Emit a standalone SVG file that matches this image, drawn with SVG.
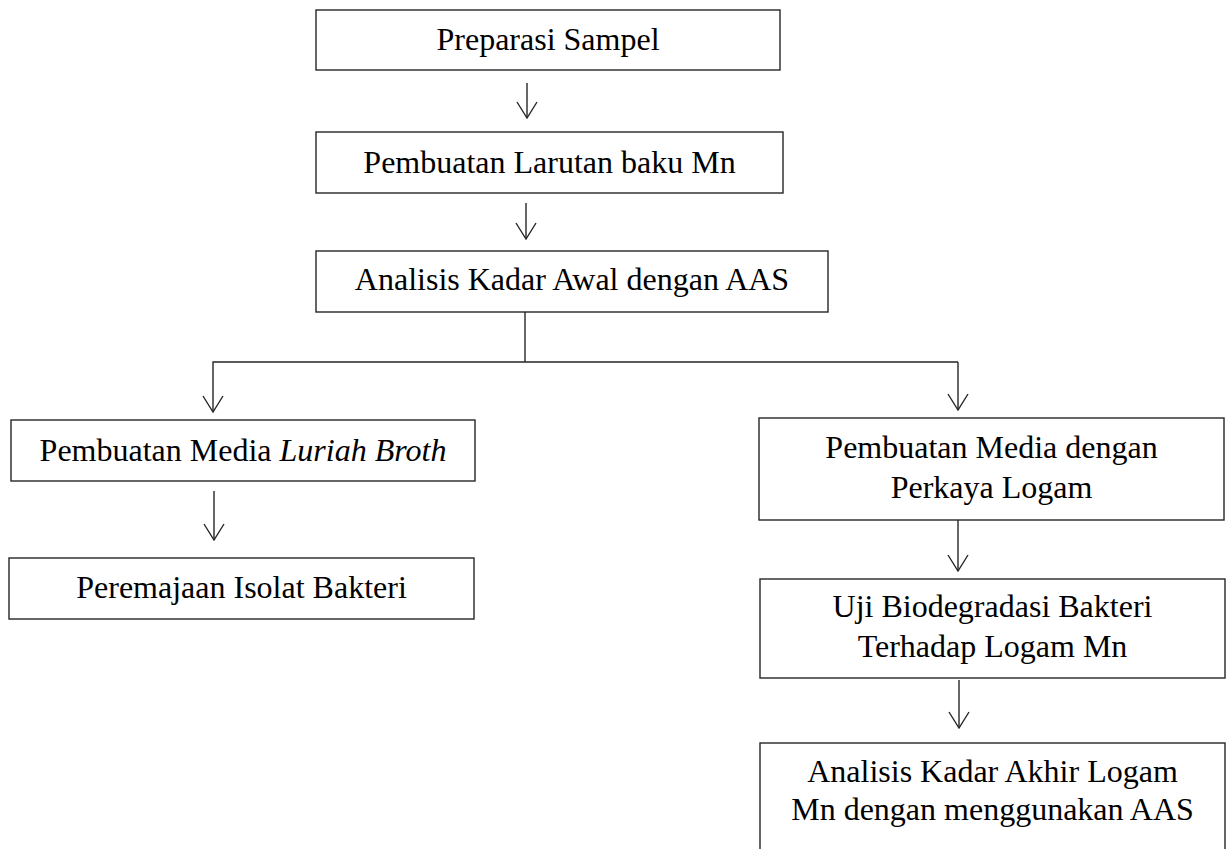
<svg xmlns="http://www.w3.org/2000/svg" width="1232" height="849" viewBox="0 0 1232 849">
<style>
.box{fill:#fff;stroke:#262626;stroke-width:1.4}
.t{font-family:"Liberation Serif","Times New Roman",serif;font-size:32px;fill:#000;text-anchor:middle}
.c{fill:none;stroke:#262626;stroke-width:1.4}
</style>
<defs>
<marker id="arr" viewBox="0 0 18 22" refX="17" refY="11" markerWidth="18" markerHeight="22" markerUnits="userSpaceOnUse" orient="auto">
<path d="M1,1 L17,11 L1,21" fill="none" stroke="#262626" stroke-width="1.4"/>
</marker>
</defs>
<rect width="1232" height="849" fill="#fff"/>
<g id="connectors">
<path class="c" d="M527,83 V118" marker-end="url(#arr)"/>
<path class="c" d="M526,203 V239" marker-end="url(#arr)"/>
<path class="c" d="M525,312 V362"/>
<path class="c" d="M958,362 H213 V412" marker-end="url(#arr)"/>
<path class="c" d="M958,362 V410" marker-end="url(#arr)"/>
<path class="c" d="M214,491 V540" marker-end="url(#arr)"/>
<path class="c" d="M958,520 V571" marker-end="url(#arr)"/>
<path class="c" d="M959,680 V728" marker-end="url(#arr)"/>
</g>
<g id="n1"><rect class="box" x="316" y="10" width="464" height="60"/><text class="t" x="548" y="50">Preparasi Sampel</text></g>
<g id="n2"><rect class="box" x="316" y="132" width="467" height="61"/><text class="t" x="549.5" y="173">Pembuatan Larutan baku Mn</text></g>
<g id="n3"><rect class="box" x="316" y="251" width="512" height="61"/><text class="t" x="572" y="290">Analisis Kadar Awal dengan AAS</text></g>
<g id="n4"><rect class="box" x="11" y="420" width="464" height="61"/><text class="t" x="243" y="461">Pembuatan Media <tspan font-style="italic">Luriah Broth</tspan></text></g>
<g id="n5"><rect class="box" x="9" y="558" width="465" height="61"/><text class="t" x="241.5" y="598">Peremajaan Isolat Bakteri</text></g>
<g id="n6"><rect class="box" x="759" y="418" width="465" height="102"/><text class="t" x="991.5" y="458">Pembuatan Media dengan</text><text class="t" x="991.5" y="498">Perkaya Logam</text></g>
<g id="n7"><rect class="box" x="760" y="579" width="465" height="99"/><text class="t" x="992.5" y="617">Uji Biodegradasi Bakteri</text><text class="t" x="992.5" y="657">Terhadap Logam Mn</text></g>
<g id="n8"><rect class="box" x="760" y="743" width="465" height="120"/><text class="t" x="992.5" y="782">Analisis Kadar Akhir Logam</text><text class="t" x="992.5" y="820">Mn dengan menggunakan AAS</text></g>
</svg>
